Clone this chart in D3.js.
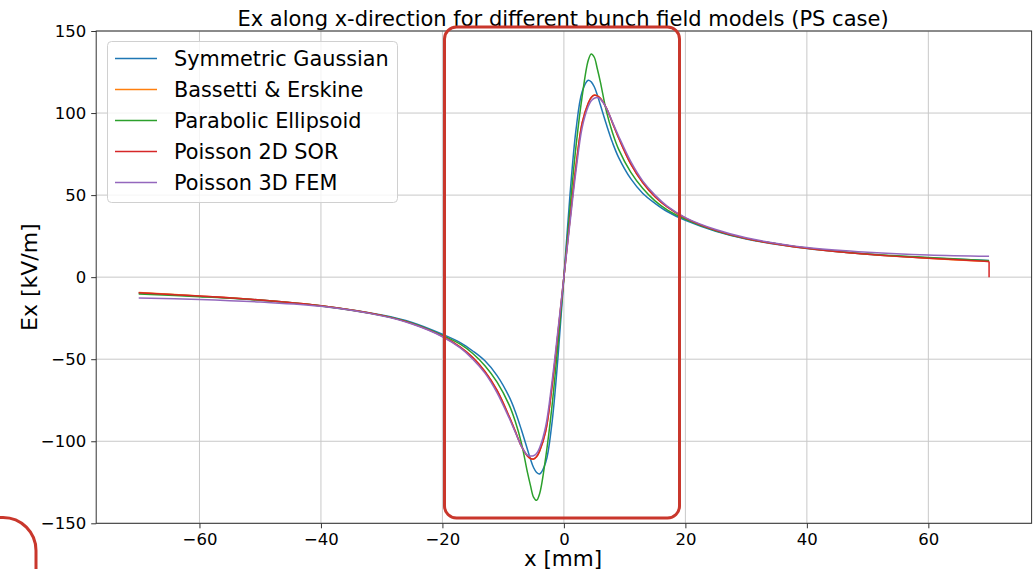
<!doctype html>
<html>
<head>
<meta charset="utf-8"/>
<title>Ex along x-direction</title>
<script src="https://d3js.org/d3.v7.min.js"></script>
<style>
  body { margin: 0; background: #fff; }
  text { font-family: 'DejaVu Sans', sans-serif; fill: #000; }
</style>
</head>
<body>
<script>
// sample positions along x [mm]
const xs = [-70,-60,-50,-40,-30,-25,-20,-17,-15,-13,-11,-9,-8,-7,-6,-5.5,-5,-4.5,-4,-3,-2,-1,
            0,
            1,2,3,4,4.5,5,5.5,6,7,8,9,11,13,15,17,20,25,30,40,50,60,70];

// Ex [kV/m], one array per model
const symGaussian = [-9.6,-11.6,-13.9,-17.4,-23.1,-27.6,-34.8,-40,-45,-51,-60,-73,-82,-93,-105,-111,-116,-119,-120,-113,-90,-50,
                     0,
                     50,90,113,120,119,116,111,105,93,82,73,60,51,45,40,34.6,28,23.3,17.5,14.0,11.7,10.1];
const bassetti = [-9.4,-11.5,-13.9,-17.4,-23.3,-28.3,-36,-42.8,-49,-57.5,-69,-85,-94,-103,-109,-110.5,-111,-109.5,-106,-94,-68,-35,
                  0,
                  35,68,94,106,109.5,111,110.5,109,103,94,85,69,57.5,49,42.8,36,28.5,23.5,17.6,13.9,11.5,9.5];
const parabolic = [-10.2,-11.9,-14.1,-17.6,-23.4,-28.1,-35.5,-41,-46.5,-54,-64,-78,-88,-101,-119,-127,-134,-136,-132,-110,-80,-42,
                   0,
                   42,80,110,132,136,134,127,119,101,88,78,64,54,46.5,41,35.3,28.3,23.5,17.7,14.1,12.0,10.0];
const poisson2d = [-9.5,-11.5,-13.9,-17.4,-23.3,-28.3,-36,-42.8,-49,-57.5,-69,-85,-94,-103,-109,-110.5,-110.8,-109.5,-106,-94,-68,-35,
                   0,
                   35,68,94,106,109.5,110.8,110.5,109,103,94,85,69,57.5,49,42.8,36,28.5,23.5,17.6,13.9,11.5,9.6];
const poisson3d = [-12.7,-13.6,-15.2,-17.8,-23.6,-28.6,-36.3,-43.3,-50,-58.5,-70.5,-86,-94.5,-103,-108.5,-109,-108.8,-107.5,-104,-91,-65,-33,
                   0,
                   33,65,91,104,107.5,109,109.5,108.5,103,94.5,86,70.5,58.5,50,43.3,36.3,29,24,18,15.2,13.5,12.7];
// the SOR solution drops to zero at the last grid point
const sorEnd = [70, 0];

const names  = ['Symmetric Gaussian', 'Bassetti & Erskine', 'Parabolic Ellipsoid', 'Poisson 2D SOR', 'Poisson 3D FEM'];
const colors = ['#1f77b4', '#ff7f0e', '#2ca02c', '#d62728', '#9467bd'];
const xTicks = [-60, -40, -20, 0, 20, 40, 60];
const yTicks = [-150, -100, -50, 0, 50, 100, 150];

const W = 1033, H = 569;
let svg = d3.select('body').append('svg').attr('width', W).attr('height', H);

let x = d3.scaleLinear().domain([-77, 77]).range([96.2, 1031.6]);
let y = d3.scaleLinear().domain([-150, 150]).range([523.3, 31]);

const fmt = d => String(d).replace('-', '\u2212');

// grid
svg.append('g').selectAll('line').data(xTicks).enter().append('line')
   .attr('x1', d => x(d)).attr('x2', d => x(d))
   .attr('y1', y(150)).attr('y2', y(-150))
   .style('stroke', '#c8c8c8').style('stroke-width', 1);
svg.append('g').selectAll('line').data(yTicks).enter().append('line')
   .attr('y1', d => y(d)).attr('y2', d => y(d))
   .attr('x1', x(-77)).attr('x2', x(77))
   .style('stroke', '#c8c8c8').style('stroke-width', 1);

// axes
let xAxis = svg.append('g').attr('transform', `translate(0,${y(-150)})`)
   .call(d3.axisBottom(x).tickValues(xTicks).tickSize(5).tickPadding(5).tickFormat(fmt));
let yAxis = svg.append('g').attr('transform', `translate(${x(-77)},0)`)
   .call(d3.axisLeft(y).tickValues(yTicks).tickSize(5).tickPadding(5).tickFormat(fmt));
[xAxis, yAxis].forEach(a => {
  a.select('.domain').remove();
  a.selectAll('.tick line').style('stroke', '#333');
  a.selectAll('.tick text').style('font-size', '16.5px').style('fill', '#000')
   .style('font-family', "'DejaVu Sans', sans-serif");
});

// frame
svg.append('rect')
   .attr('x', x(-77)).attr('y', y(150))
   .attr('width', x(77) - x(-77)).attr('height', y(-150) - y(150))
   .style('fill', 'none').style('stroke', '#333').style('stroke-width', 1);

// curves
const series = [symGaussian, bassetti, parabolic, poisson2d, poisson3d]
   .map(vals => xs.map((xv, j) => [xv, vals[j]]));

let line = d3.line().x(d => x(d[0])).y(d => y(d[1])).curve(d3.curveCatmullRom.alpha(0.5));

let g = svg.append('g');
series.forEach((pts, i) => {
  g.append('path').attr('d', line(pts))
   .style('fill', 'none').style('stroke', colors[i]).style('stroke-width', 1.5);
  if (i === 3) {
    // straight drop at the boundary
    g.append('path').attr('d', d3.line().x(d => x(d[0])).y(d => y(d[1]))([pts[pts.length - 1], sorEnd]))
     .style('fill', 'none').style('stroke', colors[i]).style('stroke-width', 1.5);
  }
});

// title and labels
svg.append('text').attr('x', 563).attr('y', 26).attr('text-anchor', 'middle')
   .style('font-size', '21px')
   .text('Ex along x-direction for different bunch field models (PS case)');
svg.append('text').attr('x', 563).attr('y', 566).attr('text-anchor', 'middle')
   .style('font-size', '21.5px').text('x [mm]');
svg.append('text').attr('transform', `translate(37,${y(0)}) rotate(-90)`).attr('text-anchor', 'middle')
   .style('font-size', '22px').text('Ex [kV/m]');

// legend
let lg = svg.append('g');
lg.append('rect').attr('x', 107.5).attr('y', 41.5).attr('width', 290).attr('height', 161).attr('rx', 4)
   .style('fill', 'rgba(255,255,255,0.8)').style('stroke', '#d0d0d0').style('stroke-width', 1);
names.forEach((n, i) => {
  let cy = 58.5 + i * 31;
  lg.append('line').attr('x1', 115).attr('x2', 157).attr('y1', cy).attr('y2', cy)
    .style('stroke', colors[i]).style('stroke-width', 1.5);
  lg.append('text').attr('x', 174).attr('y', cy + 7.5).style('font-size', '20.8px').text(n);
});

// red highlight marks drawn over the figure
svg.append('rect').attr('x', 444.5).attr('y', 27).attr('width', 235).attr('height', 491).attr('rx', 12)
   .style('fill', 'none').style('stroke', '#c9372c').style('stroke-width', 3);
svg.append('path').attr('d', 'M0,517.5 L3,517.5 A33,33 0 0 1 36,550.5 L36,569')
   .style('fill', 'none').style('stroke', '#c9372c').style('stroke-width', 3);
</script>
</body>
</html>
